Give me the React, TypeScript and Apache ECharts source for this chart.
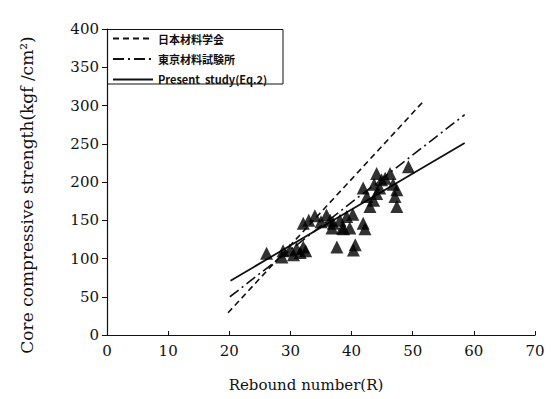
import React, { useEffect, useRef } from "react";
import * as echarts from "echarts";

const xTicks = [0, 10, 20, 30, 40, 50, 60, 70];
const yTicks = [0, 50, 100, 150, 200, 250, 300, 350, 400];

const legendNames = ["日本材料学会", "東京材料試験所", "Present  study(Eq.2)"];

const lineJSMS: number[][] = [[19.8, 29], [51.7, 305]];
const lineTokyo: number[][] = [[20.1, 50], [58.5, 288]];
const linePresent: number[][] = [[20.2, 71], [58.5, 251]];

const samples: number[][] = [
  [26.1, 107], [28.6, 102], [28.8, 110], [29.9, 111], [30.5, 105], [31.0, 113],
  [31.6, 108], [32.1, 115], [32.5, 110],
  [32.1, 146], [33.0, 150], [34.0, 156], [35.0, 148], [35.9, 157], [36.5, 150],
  [37.0, 146], [36.8, 140], [38.1, 150], [39.2, 155], [38.5, 140],
  [38.7, 139], [39.7, 140], [40.2, 158],
  [37.6, 115], [40.6, 118], [40.3, 111],
  [41.9, 146], [42.2, 139],
  [41.9, 192], [42.5, 181], [43.6, 176], [43.0, 168], [44.1, 211], [46.3, 211],
  [44.9, 203], [43.7, 197], [46.8, 197], [47.4, 190], [47.1, 181], [47.4, 168],
  [49.3, 220], [44.1, 185], [44.6, 192], [45.5, 205],
];

export default function App() {
  const ref = useRef<HTMLDivElement>(null);
  useEffect(() => {
    document.body.style.margin = "0";
    if (!ref.current) return;
    const chart = echarts.init(ref.current, undefined, { renderer: "svg" });
    const serif = "DejaVu Serif";
    chart.setOption({
      animation: false,
      backgroundColor: "#fff",
      grid: { left: 107, right: 25, top: 29, bottom: 64 },
      xAxis: {
        type: "value",
        min: xTicks[0],
        max: xTicks[xTicks.length - 1],
        interval: 10,
        splitLine: { show: false },
        axisLine: { lineStyle: { color: "#111", width: 1.2 } },
        axisTick: { length: 4, inside: true, lineStyle: { color: "#111" } },
        axisLabel: { color: "#111", fontFamily: serif, fontSize: 15, margin: 8 },
      },
      yAxis: {
        type: "value",
        min: yTicks[0],
        max: yTicks[yTicks.length - 1],
        interval: 50,
        splitLine: { show: false },
        axisLine: { show: true, lineStyle: { color: "#111", width: 1.2 } },
        axisTick: { show: true, length: 5, lineStyle: { color: "#111" } },
        axisLabel: { color: "#111", fontFamily: serif, fontSize: 15, margin: 8 },
      },
      legend: {
        data: legendNames,
        orient: "vertical",
        left: 112,
        top: 33,
        padding: 0,
        itemWidth: 40,
        itemHeight: 10,
        itemGap: 9.5,
        itemStyle: { opacity: 0 },
        textStyle: { color: "#111", fontSize: 11, fontWeight: "bold", fontFamily: "Noto Sans CJK JP" },
      },
      graphic: [
        {
          type: "polyline",
          shape: { points: [[107, 29.5], [283, 29.5], [283, 84], [107, 84]] },
          style: { stroke: "#111", fill: "none", lineWidth: 1 },
          silent: true,
        },
        {
          type: "text",
          x: 306,
          y: 385,
          style: {
            text: "Rebound number(R)",
            fontFamily: serif,
            fontSize: 15,
            fill: "#111",
            align: "center",
            verticalAlign: "middle",
          },
        },
        {
          type: "text",
          x: 27,
          y: 195,
          rotation: Math.PI / 2,
          style: {
            text: "Core compressive strength(kgf /cm²)",
            fontFamily: serif,
            fontSize: 17,
            fill: "#111",
            align: "center",
            verticalAlign: "middle",
          },
        },
      ],
      series: [
        {
          name: legendNames[0],
          type: "line",
          data: lineJSMS,
          symbol: "none",
          lineStyle: { color: "#111", width: 1.6, type: [6, 4] },
          itemStyle: { color: "#111" },
        },
        {
          name: legendNames[1],
          type: "line",
          data: lineTokyo,
          symbol: "none",
          lineStyle: { color: "#111", width: 1.6, type: [11, 4, 2, 4] },
          itemStyle: { color: "#111" },
        },
        {
          name: legendNames[2],
          type: "line",
          data: linePresent,
          symbol: "none",
          lineStyle: { color: "#111", width: 1.8 },
          itemStyle: { color: "#111" },
        },
        {
          name: "data",
          type: "scatter",
          data: samples,
          symbol: "triangle",
          symbolSize: 13,
          itemStyle: { color: "#000" },
          z: 3,
        },
      ],
    });
    return () => chart.dispose();
  }, []);
  return <div ref={ref} style={{ width: 560, height: 399 }} />;
}
